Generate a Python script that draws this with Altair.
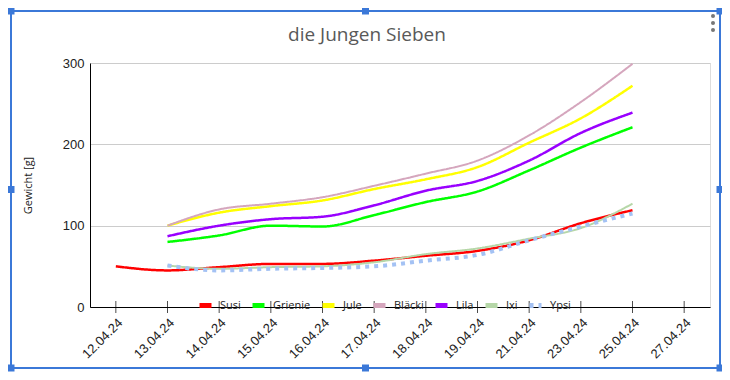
import altair as alt
import pandas as pd

dates = ["12.04.24", "13.04.24", "14.04.24", "15.04.24", "16.04.24", "17.04.24",
         "18.04.24", "19.04.24", "21.04.24", "23.04.24", "25.04.24", "27.04.24"]
names = ["Susi", "Grienie", "Jule", "Bläcki", "Lila", "Ixi", "Ypsi"]
colors = ["#ff0000", "#00ff00", "#ffff00", "#d5a6bd", "#9900ff", "#b6d7a8", "#a4c2f4"]

susi = [50, 45, 49, 53, 53, 57, 63, 69, 82, 103, 119, None]
grienie = [None, 80, 88, 100, 99, 113, 129, 142, 168, 196, 221, None]
jule = [None, 100, 116, 124, 131, 145, 157, 172, 202, 232, 272, None]
blaecki = [None, 100, 120, 127, 135, 149, 164, 180, 211, 252, 299, None]
lila = [None, 87, 100, 108, 111, 125, 143, 155, 180, 214, 239, None]
ixi = [None, 51, 47, 49, 50, 55, 65, 72, 84, 97, 127, None]
ypsi = [None, 51, 45, 47, 48, 50, 57, 64, 82, 99, 115, None]

chart_title = "die Jungen Sieben"

series = [susi, grienie, jule, blaecki, lila, ixi, ypsi]
widths = [2.5, 2.5, 2.5, 2, 2.5, 2, 4]
dashes = [[1, 0], [1, 0], [1, 0], [1, 0], [1, 0], [1, 0], [4, 5]]

rows = []
for name, vals, w in zip(names, series, widths):
    for d, v in zip(dates, vals):
        if v is not None:
            rows.append({"Datum": d, "Name": name, "Gewicht": v, "w": w})
df = pd.DataFrame(rows)
ticks_df = pd.DataFrame({"Datum": dates})
one = pd.DataFrame({"t": [chart_title]})

FONT = "Open Sans"
xscale = alt.Scale(type="point", domain=dates, padding=0.5)

legend_cfg = dict(
    title=None, orient="none", legendX=107, legendY=234, direction="horizontal",
    symbolType="stroke", symbolStrokeWidth=5, symbolSize=144,
    labelFont=FONT, labelFontSize=11, labelColor="#222222",
    columnPadding=1, labelOffset=6, gridAlign="none",
)

lines = alt.Chart(df).mark_line(interpolate="monotone", strokeCap="butt").encode(
    x=alt.X("Datum:N", scale=xscale, sort=dates,
            axis=alt.Axis(title=None, labelAngle=-45, ticks=False, domainColor="black",
                          labelFont="Liberation Sans", labelFontSize=13, labelColor="#222222",
                          labelPadding=9, grid=False)),
    y=alt.Y("Gewicht:Q", scale=alt.Scale(domain=[0, 300]),
            axis=alt.Axis(values=[0, 100, 200, 300], title="Gewicht [g]", grid=True,
                          gridColor="#cccccc", domainColor="black", ticks=False,
                          labelFont="Liberation Sans", labelFontSize=13, labelColor="#222222",
                          labelPadding=6, titleFont=FONT, titleFontSize=11,
                          titleFontWeight="normal", titleColor="#222222", titlePadding=29)),
    color=alt.Color("Name:N", scale=alt.Scale(domain=names, range=colors),
                    legend=alt.Legend(**legend_cfg)),
    strokeDash=alt.StrokeDash("Name:N", scale=alt.Scale(domain=names, range=dashes),
                              legend=alt.Legend(**legend_cfg)),
    strokeWidth=alt.StrokeWidth("w:Q", scale=None),
)

xticks = alt.Chart(ticks_df).mark_tick(color="black", thickness=1, size=12, orient="vertical").encode(
    x=alt.X("Datum:N", scale=xscale, sort=dates),
    y=alt.datum(0),
)

title_mark = alt.Chart(one).mark_text(font=FONT, fontSize=19, color="#595959",
                                      align="center", baseline="middle").encode(
    text="t:N", x=alt.value(277), y=alt.value(-28))

# spreadsheet selection frame (decoration)
L, R, T, B = -79, 630, -52, 305
MX, MY = (L + R) / 2, (T + B) / 2
frame = alt.Chart(one).mark_rect(filled=False, stroke="#3b78d8", strokeWidth=2).encode(
    x=alt.value(L), x2=alt.value(R), y=alt.value(T), y2=alt.value(B)
)

def handle(px, py):
    return alt.Chart(one).mark_square(size=49, color="#3b78d8", opacity=1).encode(
        x=alt.value(px), y=alt.value(py))

def dot(px, py):
    return alt.Chart(one).mark_circle(size=16, color="#777777", opacity=1).encode(
        x=alt.value(px), y=alt.value(py))

decor = [handle(L, T), handle(MX, T), handle(R, T),
         handle(L, MY), handle(R, MY),
         handle(L, B), handle(MX, B), handle(R, B),
         dot(623, -47), dot(623, -40), dot(623, -33)]

chart = alt.layer(lines, xticks, title_mark, frame, *decor).properties(
    width=620, height=244,
    autosize="none",
    padding={"left": 82, "top": 55, "right": 12, "bottom": 65},
).configure_view(stroke=None).configure(background="white")

chart.save("out.html", embed_options={"renderer": "svg", "actions": False})
